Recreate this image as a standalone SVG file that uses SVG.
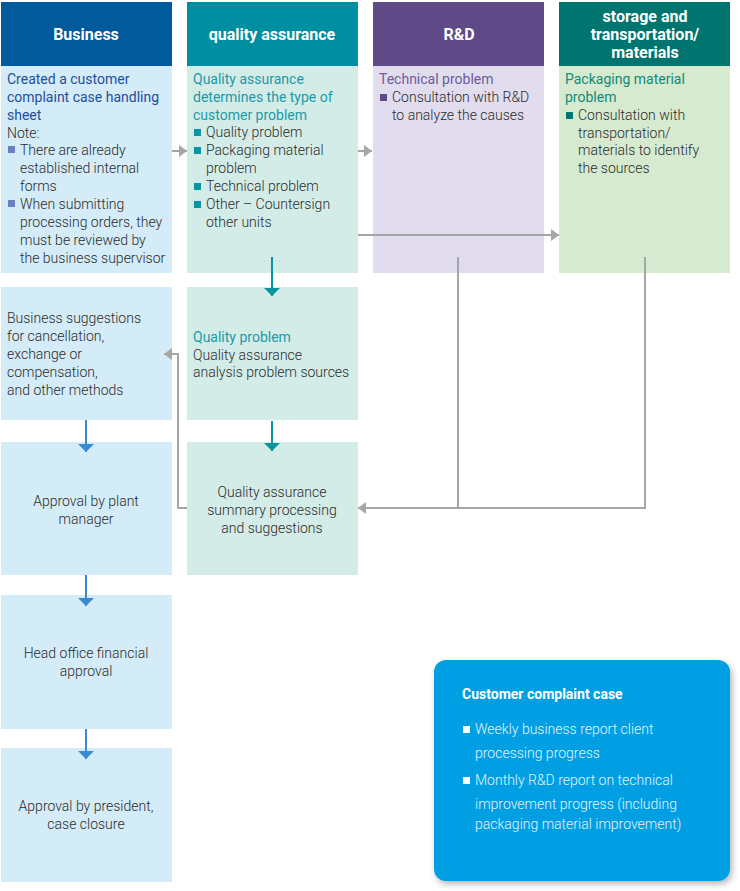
<svg xmlns="http://www.w3.org/2000/svg" width="740" height="891" viewBox="0 0 740 891">
<style>
text{font-family:Roboto,"Liberation Sans",sans-serif;font-size:14px;font-weight:300;fill:#2b2b2b}
.hd{font-size:16px;font-weight:bold;fill:#ffffff;text-anchor:middle}
.c{text-anchor:middle}
.bl{fill:#1f4f9c;font-weight:400}
.tl{fill:#1b9aa8;font-weight:400}
.pu{fill:#6e5c9c;font-weight:400}
.gr{fill:#0f8a7c;font-weight:400}
.ib{fill:#e4f3fc}
.it{fill:#ffffff;font-weight:bold}
.g{stroke:#a6a6a6;stroke-width:2;fill:none}
.t{stroke:#0b93a1;stroke-width:2;fill:none}
.b{stroke:#3a8ad0;stroke-width:2;fill:none}
</style>
<defs>
<marker id="ag" markerUnits="userSpaceOnUse" markerWidth="10" markerHeight="12" refX="8" refY="6" orient="auto"><path d="M0,0 L8,6 L0,12 z" fill="#a6a6a6"/></marker>
<marker id="at" markerUnits="userSpaceOnUse" markerWidth="10" markerHeight="16" refX="8" refY="8" orient="auto"><path d="M0,0 L8,8 L0,16 z" fill="#0b93a1"/></marker>
<marker id="ab" markerUnits="userSpaceOnUse" markerWidth="10" markerHeight="16" refX="8" refY="8" orient="auto"><path d="M0,0 L8,8 L0,16 z" fill="#3a8ad0"/></marker>
<filter id="sh" x="-10%" y="-10%" width="125%" height="125%"><feDropShadow dx="2" dy="3" stdDeviation="3" flood-color="#000000" flood-opacity="0.3"/></filter>
</defs>

<g id="business">
<rect x="1" y="2" width="171" height="64" fill="#005a9c"/>
<rect x="1" y="66" width="171" height="207" fill="#d4ebf8"/>
<text class="hd" x="86" y="40">Business</text>
<text class="bl" x="7" y="84">Created a customer</text>
<text class="bl" x="7" y="102">complaint case handling</text>
<text class="bl" x="7" y="120">sheet</text>
<text x="7" y="138">Note:</text>
<rect x="8" y="146" width="7" height="7" fill="#6a7fc0"/>
<text x="20" y="155">There are already</text>
<text x="20" y="173">established internal</text>
<text x="20" y="191">forms</text>
<rect x="8" y="200" width="7" height="7" fill="#6a7fc0"/>
<text x="20" y="209">When submitting</text>
<text x="20" y="227">processing orders, they</text>
<text x="20" y="245">must be reviewed by</text>
<text x="20" y="263">the business supervisor</text>
</g>

<g id="qa">
<rect x="187" y="2" width="171" height="64" fill="#008fa0"/>
<rect x="187" y="66" width="171" height="207" fill="#d3ece8"/>
<text class="hd" x="272" y="40">quality assurance</text>
<text class="tl" x="193" y="84">Quality assurance</text>
<text class="tl" x="193" y="102">determines the type of</text>
<text class="tl" x="193" y="120">customer problem</text>
<rect x="194" y="129" width="7" height="7" fill="#0b93a1"/>
<text x="206" y="137">Quality problem</text>
<rect x="194" y="147" width="7" height="7" fill="#0b93a1"/>
<text x="206" y="155">Packaging material</text>
<text x="206" y="173">problem</text>
<rect x="194" y="183" width="7" height="7" fill="#0b93a1"/>
<text x="206" y="191">Technical problem</text>
<rect x="194" y="201" width="7" height="7" fill="#0b93a1"/>
<text x="206" y="209">Other – Countersign</text>
<text x="206" y="227">other units</text>
</g>

<g id="rd">
<rect x="373" y="2" width="171" height="64" fill="#5e4a86"/>
<rect x="373" y="66" width="171" height="207" fill="#e1dcee"/>
<text class="hd" x="459" y="40">R&amp;D</text>
<text class="pu" x="379" y="84">Technical problem</text>
<rect x="380" y="94" width="7" height="7" fill="#5e4a86"/>
<text x="392" y="102">Consultation with R&amp;D</text>
<text x="392" y="120">to analyze the causes</text>
</g>

<g id="storage">
<rect x="559" y="2" width="171" height="64" fill="#007570"/>
<rect x="559" y="66" width="171" height="207" fill="#d6eacf"/>
<text class="hd" x="645" y="22">storage and</text>
<text class="hd" x="645" y="40">transportation/</text>
<text class="hd" x="645" y="58">materials</text>
<text class="gr" x="565" y="84">Packaging material</text>
<text class="gr" x="565" y="102">problem</text>
<rect x="566" y="112" width="7" height="7" fill="#007570"/>
<text x="578" y="120">Consultation with</text>
<text x="578" y="138">transportation/</text>
<text x="578" y="155">materials to identify</text>
<text x="578" y="173">the sources</text>
</g>

<g id="suggestions">
<rect x="1" y="287" width="171" height="133" fill="#d4ebf8"/>
<text x="7" y="323">Business suggestions</text>
<text x="7" y="341">for cancellation,</text>
<text x="7" y="359">exchange or</text>
<text x="7" y="377">compensation,</text>
<text x="7" y="395">and other methods</text>
</g>

<g id="qa-analysis">
<rect x="187" y="287" width="171" height="133" fill="#d3ece8"/>
<text class="tl" x="193" y="342">Quality problem</text>
<text x="193" y="360">Quality assurance</text>
<text x="193" y="377">analysis problem sources</text>
</g>

<g id="plant-manager">
<rect x="1" y="442" width="171" height="133" fill="#d4ebf8"/>
<text class="c" x="86" y="506">Approval by plant</text>
<text class="c" x="86" y="524">manager</text>
</g>

<g id="qa-summary">
<rect x="187" y="442" width="171" height="133" fill="#d3ece8"/>
<text class="c" x="272" y="497">Quality assurance</text>
<text class="c" x="272" y="515">summary processing</text>
<text class="c" x="272" y="533">and suggestions</text>
</g>

<g id="head-office">
<rect x="1" y="595" width="171" height="134" fill="#d4ebf8"/>
<text class="c" x="86" y="658">Head office financial</text>
<text class="c" x="86" y="676">approval</text>
</g>

<g id="president">
<rect x="1" y="748" width="171" height="134" fill="#d4ebf8"/>
<text class="c" x="86" y="811">Approval by president,</text>
<text class="c" x="86" y="829">case closure</text>
</g>

<g id="info">
<rect x="434" y="660" width="296" height="221" rx="12" fill="#009fe3" filter="url(#sh)"/>
<text class="it" x="462" y="699">Customer complaint case</text>
<rect x="463" y="726" width="7" height="7" fill="#ffffff"/>
<text class="ib" x="475" y="734">Weekly business report client</text>
<text class="ib" x="475" y="758">processing progress</text>
<rect x="463" y="777" width="7" height="7" fill="#ffffff"/>
<text class="ib" x="475" y="785">Monthly R&amp;D report on technical</text>
<text class="ib" x="475" y="809">improvement progress (including</text>
<text class="ib" x="475" y="829">packaging material improvement)</text>
</g>

<g id="connectors">
<path class="g" d="M172,151 H187" marker-end="url(#ag)"/>
<path class="g" d="M358,151 H372" marker-end="url(#ag)"/>
<path class="g" d="M358,235 H559" marker-end="url(#ag)"/>
<path class="g" d="M458,257 V508"/>
<path class="g" d="M645,257 V508 H358" marker-end="url(#ag)"/>
<path class="g" d="M187,508 H178 V354 H164" marker-end="url(#ag)"/>
<path class="t" d="M272,257 V296" marker-end="url(#at)"/>
<path class="t" d="M272,421 V451" marker-end="url(#at)"/>
<path class="b" d="M86,420 V452" marker-end="url(#ab)"/>
<path class="b" d="M86,575 V606" marker-end="url(#ab)"/>
<path class="b" d="M86,729 V759" marker-end="url(#ab)"/>
</g>
</svg>
